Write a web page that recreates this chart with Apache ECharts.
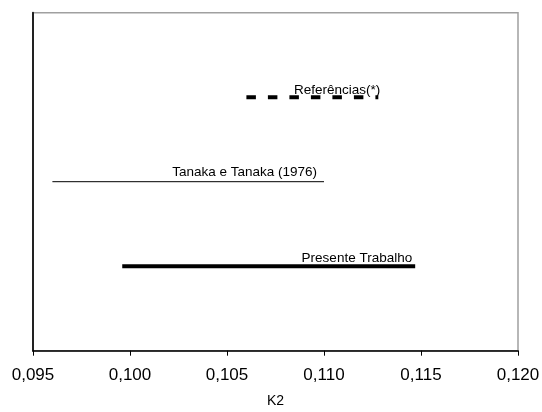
<!DOCTYPE html>
<html>
<head>
<meta charset="utf-8">
<script src="https://cdn.jsdelivr.net/npm/echarts@6/dist/echarts.min.js"></script>
<style>
  html, body { margin: 0; padding: 0; background: #fff; }
  #chart { width: 542px; height: 412px; }
</style>
</head>
<body>
<div id="chart"></div>
<script>
// K2 ranges reported by each source
const names = ['Referências(*)', 'Tanaka e Tanaka (1976)', 'Presente Trabalho'];
const k2Start = [0.1060, 0.0960, 0.0996];
const k2End = [0.1128, 0.1100, 0.1147];
const rows = [3, 2, 1];
const xTicks = [0.095, 0.100, 0.105, 0.110, 0.115, 0.120];

const lineStyles = [
  { width: 4, type: [9.5, 12] },
  { width: 1, type: 'solid' },
  { width: 4, type: 'solid' }
];
const labelOffsets = [[2, 2], [-7, 0], [-3, 1]];

const FONT = '"Liberation Sans", Arial, sans-serif';

const series = names.map((name, i) => ({
  name: name,
  type: 'line',
  symbol: 'circle',
  symbolSize: 0,
  showSymbol: true,
  silent: true,
  itemStyle: { color: '#000' },
  lineStyle: Object.assign({ color: '#000', cap: 'butt' }, lineStyles[i]),
  data: [
    { value: [k2Start[i], rows[i]] },
    {
      value: [k2End[i], rows[i]],
      label: {
        show: true,
        position: 'top',
        align: 'right',
        distance: 2,
        offset: labelOffsets[i],
        formatter: name,
        color: '#000',
        fontFamily: FONT,
        fontSize: 13.5
      }
    }
  ]
}));

const chart = echarts.init(document.getElementById('chart'), null, { renderer: 'canvas' });
chart.setOption({
  animation: false,
  backgroundColor: '#fff',
  grid: {
    left: 33, right: 24, top: 12.7, bottom: 61.3,
    outerBoundsMode: 'none',
    containLabel: false,
    show: true, borderColor: '#a0a0a0', borderWidth: 1.5,
    backgroundColor: 'transparent'
  },
  xAxis: {
    type: 'value',
    min: xTicks[0],
    max: xTicks[xTicks.length - 1],
    interval: 0.005,
    name: 'K2',
    nameLocation: 'middle',
    nameGap: 43,
    nameTextStyle: { color: '#000', fontFamily: FONT, fontSize: 14 },
    axisLine: { show: true, lineStyle: { color: '#000', width: 1.5 } },
    axisTick: { show: true, length: 5, lineStyle: { color: '#000', width: 1 } },
    axisLabel: {
      color: '#000', fontFamily: FONT, fontSize: 17, margin: 16,
      formatter: v => v.toFixed(3).replace('.', ',')
    },
    splitLine: { show: false }
  },
  yAxis: {
    type: 'value',
    min: 0,
    max: 4,
    axisLine: { show: true, lineStyle: { color: '#222', width: 2 } },
    axisTick: { show: false },
    axisLabel: { show: false },
    splitLine: { show: false }
  },
  series: series
});
</script>
</body>
</html>
